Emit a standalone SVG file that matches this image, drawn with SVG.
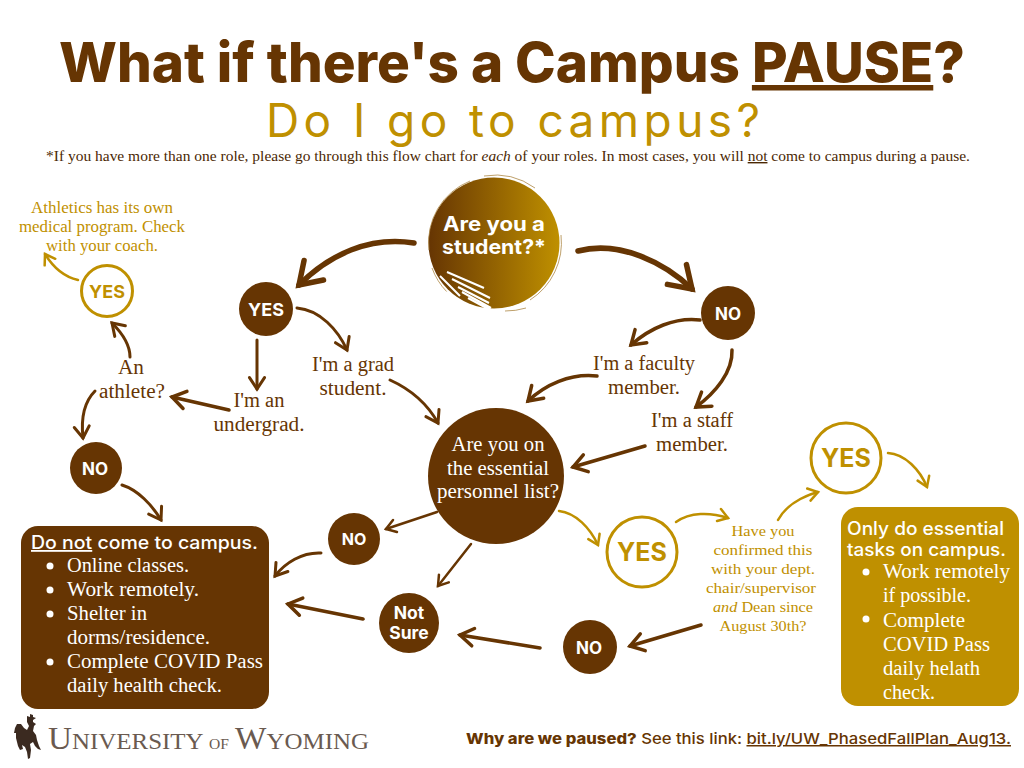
<svg xmlns="http://www.w3.org/2000/svg" width="1024" height="768" viewBox="0 0 1024 768">
<style>
.b{fill:#663503}.g{fill:#bf9000}.w{fill:#fff}
.sans{font-family:"Inter","Liberation Sans",sans-serif;font-weight:700;text-anchor:middle}
.ser{font-family:"Liberation Serif",serif;font-size:20px;text-anchor:middle}
.left{text-anchor:start}
.ring{fill:#fff;stroke:#bf9000;stroke-width:3}
.a{fill:none;stroke:#663503;stroke-linecap:round;marker-end:url(#hb)}
.ag{fill:none;stroke:#bf9000;stroke-linecap:round;marker-end:url(#hg)}
</style>
<defs>
<marker id="hb" viewBox="-6 -5 7 10" refX="0" refY="0" markerWidth="7" markerHeight="10" orient="auto" markerUnits="strokeWidth" overflow="visible"><path d="M-3.800,-2.500L0,0L-3.800,2.500" fill="none" stroke="#663503" stroke-width="1" stroke-linecap="round" stroke-linejoin="miter"/></marker>
<marker id="hg" viewBox="-6 -5 7 10" refX="0" refY="0" markerWidth="7" markerHeight="10" orient="auto" markerUnits="strokeWidth" overflow="visible"><path d="M-3.800,-2.500L0,0L-3.800,2.500" fill="none" stroke="#bf9000" stroke-width="1" stroke-linecap="round"/></marker>
<linearGradient id="grad" x1="0" x2="1" y1="0" y2="0"><stop offset="0" stop-color="#663503"/><stop offset="1" stop-color="#bf9000"/></linearGradient>
</defs>
<rect width="1024" height="768" fill="#fff"/>

<g id="title">
<text class="sans b" x="512" y="82" font-size="55" textLength="906" lengthAdjust="spacingAndGlyphs" style="font-weight:800">What if there's a Campus <tspan text-decoration="underline">PAUSE</tspan>?</text>
<text class="sans g" x="513" y="137" font-size="46" textLength="494" lengthAdjust="spacing" style="font-weight:400">Do I go to campus?</text>
<text class="ser b" x="508" y="161" style="font-size:14px;fill:#4a2703" textLength="924" lengthAdjust="spacingAndGlyphs">*If you have more than one role, please go through this flow chart for <tspan font-style="italic">each</tspan> of your roles. In most cases, you will <tspan text-decoration="underline">not</tspan> come to campus during a pause.</text>
</g>

<g id="connectors">
<path class="a" style="stroke-width:5.500" d="M414,243C370,236 330,254 299,285"/>
<path class="a" style="stroke-width:5.500" d="M578,251C620,240 665,263 692,289"/>
<path class="a" style="stroke-width:3" d="M297,308C320,310 338,330 347,350"/>
<path class="a" style="stroke-width:3" d="M257,340L257,389"/>
<path class="a" style="stroke-width:3.500" d="M229,410L172,397"/>
<path class="a" style="stroke-width:3" d="M130,357C130,345 122,333 112,323"/>
<path class="a" style="stroke-width:3" d="M95,391C84,402 81,420 83,438"/>
<path class="a" style="stroke-width:3" d="M122,485C138,490 152,505 161,520"/>
<path class="ag" style="stroke-width:2.500" d="M78,280C65,277 53,267 45,254"/>
<path class="a" style="stroke-width:3.500" d="M700,320C675,317 650,328 631,345"/>
<path class="a" style="stroke-width:3.500" d="M732,350C733,372 715,393 696,407"/>
<path class="a" style="stroke-width:3.500" d="M597,376C570,373 545,385 528,401"/>
<path class="a" style="stroke-width:3.500" d="M645,446L573,467"/>
<path class="a" style="stroke-width:3" d="M390,380C412,390 428,405 438,423"/>
<path class="ag" style="stroke-width:2.500" d="M559,511C576,513 590,528 598,545"/>
<path class="ag" style="stroke-width:2.500" d="M676,522C690,512 710,512 728,518"/>
<path class="ag" style="stroke-width:2.500" d="M778,520C785,507 800,497 818,492"/>
<path class="ag" style="stroke-width:2.500" d="M888,453C905,454 920,470 927,487"/>
<path class="a" style="stroke-width:2.500" d="M437,512L386,529"/>
<path class="a" style="stroke-width:2.500" d="M471,544L438,586"/>
<path class="a" style="stroke-width:3" d="M321,553C302,552 285,563 275,576"/>
<path class="a" style="stroke-width:3.500" d="M363,619L288,604"/>
<path class="a" style="stroke-width:3.500" d="M540,648L460,635"/>
<path class="a" style="stroke-width:3.500" d="M701,625L630,646"/>
</g>

<g id="note-athletics">
<text class="ser g" x="102" y="213" style="font-size:16.500px" textLength="142" lengthAdjust="spacingAndGlyphs">Athletics has its own</text>
<text class="ser g" x="102" y="232" style="font-size:16.500px" textLength="166" lengthAdjust="spacingAndGlyphs">medical program. Check</text>
<text class="ser g" x="102" y="251" style="font-size:16.500px" textLength="112" lengthAdjust="spacingAndGlyphs">with your coach.</text>
</g>
<g id="yes-athlete"><circle class="ring" cx="107" cy="291" r="25.500"/><text class="sans g" x="107" y="298" font-size="18">YES</text></g>
<g id="athlete-q">
<text class="ser b" x="131" y="374" textLength="26" lengthAdjust="spacingAndGlyphs">An</text>
<text class="ser b" x="132" y="398" textLength="66" lengthAdjust="spacingAndGlyphs">athlete?</text>
</g>
<g id="no-athlete"><circle class="b" cx="96" cy="468" r="26"/><text class="sans w" x="95" y="475" font-size="17">NO</text></g>
<g id="yes-student"><circle class="b" cx="266" cy="309" r="27"/><text class="sans w" x="266" y="316" font-size="18">YES</text></g>
<g id="undergrad">
<text class="ser b" x="259" y="407" textLength="51" lengthAdjust="spacingAndGlyphs">I'm an</text>
<text class="ser b" x="259" y="431" textLength="91" lengthAdjust="spacingAndGlyphs">undergrad.</text>
</g>
<g id="grad">
<text class="ser b" x="353" y="371" textLength="82" lengthAdjust="spacingAndGlyphs">I'm a grad</text>
<text class="ser b" x="353" y="395" textLength="67" lengthAdjust="spacingAndGlyphs">student.</text>
</g>

<g id="student-q">
<circle cx="494" cy="243" r="65.500" fill="url(#grad)"/>
<path d="M429,250A66,66 0 0 1 470,181M484,176A68,68 0 0 1 535,188M561,235A68,68 0 0 1 530,300M526,308A70,70 0 0 1 505,311M447,292A68,68 0 0 1 432,268" fill="none" stroke="#a8803a" stroke-width="1" opacity=".75"/>
<path d="M447,272L484,288M452,279L490,298M458,287L489,303M462,292L491,308M468,298L492,311M440,276L460,296M446,292L466,305" stroke="#fff" stroke-width="2" fill="none"/>
<text class="sans w" x="494" y="231" font-size="20" textLength="102" lengthAdjust="spacingAndGlyphs">Are you a</text>
<text class="sans w" x="494" y="254" font-size="20" textLength="104" lengthAdjust="spacingAndGlyphs">student?*</text>
</g>
<g id="no-student"><circle class="b" cx="728" cy="313" r="27"/><text class="sans w" x="728" y="320" font-size="17">NO</text></g>
<g id="faculty">
<text class="ser b" x="644" y="370" textLength="102" lengthAdjust="spacingAndGlyphs">I'm a faculty</text>
<text class="ser b" x="644" y="394" textLength="72" lengthAdjust="spacingAndGlyphs">member.</text>
</g>
<g id="staff">
<text class="ser b" x="692" y="427" textLength="82" lengthAdjust="spacingAndGlyphs">I'm a staff</text>
<text class="ser b" x="692" y="451" textLength="72" lengthAdjust="spacingAndGlyphs">member.</text>
</g>
<g id="essential-q">
<circle class="b" cx="496" cy="476" r="68"/>
<text class="ser w" x="498" y="451" textLength="93" lengthAdjust="spacingAndGlyphs">Are you on</text>
<text class="ser w" x="498" y="475" textLength="102" lengthAdjust="spacingAndGlyphs">the essential</text>
<text class="ser w" x="498" y="498" textLength="122" lengthAdjust="spacingAndGlyphs">personnel list?</text>
</g>
<g id="yes-essential"><circle class="ring" cx="642" cy="552" r="35"/><text class="sans g" x="642" y="561" font-size="25">YES</text></g>
<g id="confirm">
<text class="ser g" x="763" y="536" style="font-size:15px" textLength="63" lengthAdjust="spacingAndGlyphs">Have you</text>
<text class="ser g" x="763" y="555" style="font-size:15px" textLength="99" lengthAdjust="spacingAndGlyphs">confirmed this</text>
<text class="ser g" x="763" y="574" style="font-size:15px" textLength="104" lengthAdjust="spacingAndGlyphs">with your dept.</text>
<text class="ser g" x="761" y="593" style="font-size:15px" textLength="110" lengthAdjust="spacingAndGlyphs">chair/supervisor</text>
<text class="ser g" x="763" y="612" style="font-size:15px" textLength="100" lengthAdjust="spacingAndGlyphs"><tspan font-style="italic">and</tspan> Dean since</text>
<text class="ser g" x="763" y="631" style="font-size:15px" textLength="87" lengthAdjust="spacingAndGlyphs">August 30th?</text>
</g>
<g id="yes-confirm"><circle class="ring" cx="846" cy="458" r="35"/><text class="sans g" x="846" y="467" font-size="25">YES</text></g>
<g id="box-essential">
<rect class="g" x="841" y="507" width="178" height="199" rx="17"/>
<text class="sans w left" x="847" y="535" font-size="18" style="font-weight:500" textLength="157" lengthAdjust="spacingAndGlyphs">Only do essential</text>
<text class="sans w left" x="847" y="556" font-size="18" style="font-weight:500" textLength="159" lengthAdjust="spacingAndGlyphs">tasks on campus.</text>
<circle class="w" cx="866" cy="572" r="3.500"/><circle class="w" cx="866" cy="619" r="3.500"/>
<text class="ser w left" x="883" y="578" textLength="127" lengthAdjust="spacingAndGlyphs">Work remotely</text>
<text class="ser w left" x="883" y="602" textLength="88" lengthAdjust="spacingAndGlyphs">if possible.</text>
<text class="ser w left" x="883" y="627" textLength="82" lengthAdjust="spacingAndGlyphs">Complete</text>
<text class="ser w left" x="883" y="651" textLength="107" lengthAdjust="spacingAndGlyphs">COVID Pass</text>
<text class="ser w left" x="883" y="675" textLength="97" lengthAdjust="spacingAndGlyphs">daily helath</text>
<text class="ser w left" x="883" y="699" textLength="52" lengthAdjust="spacingAndGlyphs">check.</text>
</g>
<g id="no-confirm"><circle class="b" cx="590" cy="647" r="27"/><text class="sans w" x="589" y="654" font-size="17">NO</text></g>
<g id="not-sure"><circle class="b" cx="409" cy="623" r="30"/><text class="sans w" x="409" y="619" font-size="17.500">Not</text><text class="sans w" x="409" y="639" font-size="17.500">Sure</text></g>
<g id="no-essential"><circle class="b" cx="354" cy="539" r="26"/><text class="sans w" x="354" y="545" font-size="16">NO</text></g>
<g id="box-stay">
<rect class="b" x="21" y="526" width="248" height="183" rx="17"/>
<text class="sans w left" x="31" y="549" font-size="18" style="font-weight:500" textLength="227" lengthAdjust="spacingAndGlyphs"><tspan text-decoration="underline">Do not</tspan> come to campus.</text>
<circle class="w" cx="50" cy="566" r="3.500"/><circle class="w" cx="50" cy="590" r="3.500"/><circle class="w" cx="50" cy="614" r="3.500"/><circle class="w" cx="50" cy="662" r="3.500"/>
<text class="ser w left" x="67" y="572" textLength="122" lengthAdjust="spacingAndGlyphs">Online classes.</text>
<text class="ser w left" x="67" y="596" textLength="132" lengthAdjust="spacingAndGlyphs">Work remotely.</text>
<text class="ser w left" x="67" y="620" textLength="80" lengthAdjust="spacingAndGlyphs">Shelter in</text>
<text class="ser w left" x="67" y="644" textLength="143" lengthAdjust="spacingAndGlyphs">dorms/residence.</text>
<text class="ser w left" x="67" y="668" textLength="196" lengthAdjust="spacingAndGlyphs">Complete COVID Pass</text>
<text class="ser w left" x="67" y="692" textLength="155" lengthAdjust="spacingAndGlyphs">daily health check.</text>
</g>

<g id="logo">
<path d="M27,716L30,717L30,714L33,715L33,717L36,718L33,720L33,722L36,724L34,726L33,731L36,735L37,740L39,746L41,750L38,749L35,746L33,742L30,744L31,750L30,758L28,759L27,752L25,747L22,745L23,749L20,750L18,746L16,738L16,733L14,733L15,728L17,724L21,724L24,728L27,730L29,726L27,722Z" fill="#3b2a20"/>
<text x="48" y="749" font-family="'Liberation Serif',serif" font-size="24" fill="#6a5a50" textLength="321" lengthAdjust="spacingAndGlyphs"><tspan font-size="32">U</tspan>NIVERSITY <tspan font-size="15">OF</tspan> <tspan font-size="32">W</tspan>YOMING</text>
</g>
<g id="footer">
<text x="466" y="744" font-family="Inter,'Liberation Sans',sans-serif" font-size="15" fill="#663503" font-weight="500" textLength="545" lengthAdjust="spacingAndGlyphs"><tspan font-weight="800">Why are we paused?</tspan> See this link: <tspan text-decoration="underline">bit.ly/UW_PhasedFallPlan_Aug13. </tspan></text>
</g>
</svg>
